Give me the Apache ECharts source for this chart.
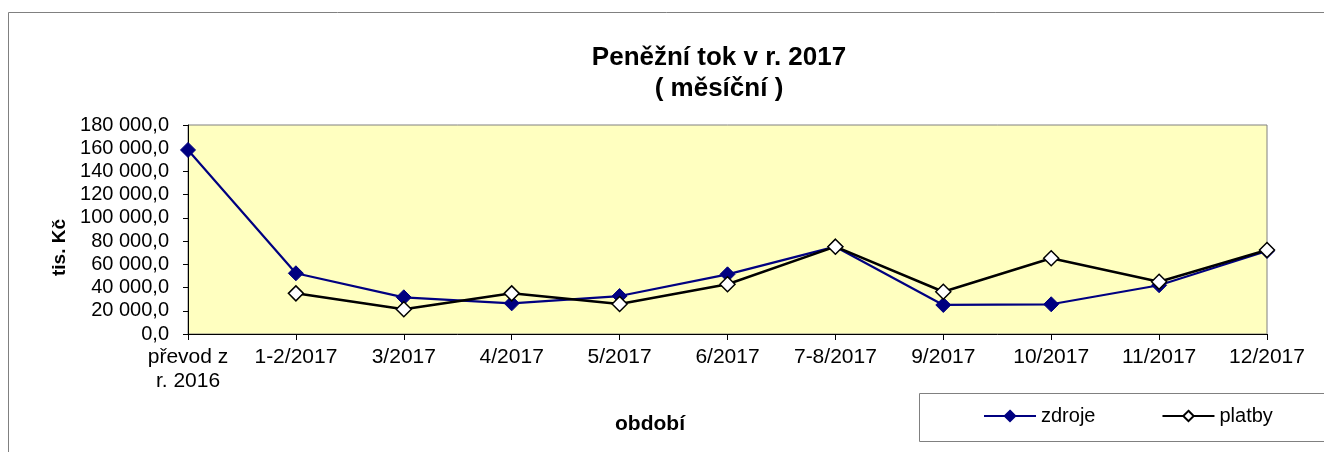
<!DOCTYPE html>
<html>
<head>
<meta charset="utf-8">
<script src="https://cdn.jsdelivr.net/npm/echarts@6/dist/echarts.min.js"></script>
<style>
html, body { margin: 0; padding: 0; background: #fff; }
#chart { width: 1324px; height: 452px; }
</style>
</head>
<body>
<div id="chart"></div>
<script>
// kategorie (obdobi)
var categories = ['převod z\nr. 2016', '1-2/2017', '3/2017', '4/2017', '5/2017', '6/2017',
	'7-8/2017', '9/2017', '10/2017', '11/2017', '12/2017'];
// tis. Kc
var zdroje = [158500, 52300, 31600, 26400, 32700, 51400, 75200, 25000, 25600, 42000, 71500];
var platby = [null, 35000, 21300, 35000, 25800, 42800, 75200, 36400, 65200, 45000, 72300];

var FONT = 'Liberation Sans, Arial, sans-serif';

function fmtNum(v) {
	return Math.round(v).toString().replace(/\B(?=(\d{3})+(?!\d))/g, ' ') + ',0';
}

var chart = echarts.init(document.getElementById('chart'));

chart.setOption({
	animation: false,
	backgroundColor: '#ffffff',
	title: {
		text: 'Peněžní tok v r. 2017\n( měsíční )',
		left: 714,
		top: 37,
		textAlign: 'center',
		textStyle: {
			fontFamily: FONT,
			fontSize: 26,
			fontWeight: 'bold',
			lineHeight: 31,
			color: '#000'
		}
	},
	graphic: [{
		// ramecek grafu
		type: 'rect',
		shape: { x: 8.5, y: 12.5, width: 1400, height: 500 },
		style: { fill: 'none', stroke: '#808080', lineWidth: 1 },
		silent: true
	}, {
		// ramecek legendy
		type: 'rect',
		shape: { x: 919.5, y: 393.5, width: 500, height: 48 },
		style: { fill: '#fff', stroke: '#808080', lineWidth: 1 },
		silent: true,
		z: 0
	}, {
		type: 'text',
		left: 615,
		top: 414,
		style: {
			text: 'období',
			font: 'bold 21px ' + FONT,
			fill: '#000'
		}
	}],
	legend: {
		left: 983,
		top: 406,
		padding: 0,
		itemWidth: 52,
		itemHeight: 13,
		itemGap: 66,
		textStyle: { fontFamily: FONT, fontSize: 20, color: '#000' },
		data: ['zdroje', 'platby'],
		z: 5
	},
	grid: {
		left: 188,
		right: 57,
		top: 125,
		bottom: 118,
		show: true,
		backgroundColor: '#FFFFC0',
		borderColor: '#808080',
		borderWidth: 1
	},
	xAxis: {
		type: 'category',
		data: categories,
		boundaryGap: false,
		axisLine: { lineStyle: { color: '#000', width: 1 } },
		axisTick: { show: true, inside: false, length: 6, lineStyle: { color: '#000' } },
		axisLabel: {
			fontFamily: FONT,
			fontSize: 21,
			color: '#000',
			margin: 11,
			lineHeight: 24,
			interval: 0
		},
		splitLine: { show: false }
	},
	yAxis: {
		type: 'value',
		min: 0,
		max: 180000,
		interval: 20000,
		name: 'tis. Kč',
		nameLocation: 'middle',
		nameRotate: 90,
		nameGap: 116,
		nameTextStyle: {
			fontFamily: FONT,
			fontSize: 19,
			fontWeight: 'bold',
			color: '#000',
			padding: [0, 36, 0, 0]
		},
		axisLine: { show: true, lineStyle: { color: '#000', width: 1 } },
		axisTick: { show: true, inside: false, length: 5, lineStyle: { color: '#000' } },
		axisLabel: {
			fontFamily: FONT,
			fontSize: 20,
			color: '#000',
			margin: 19,
			formatter: fmtNum
		},
		splitLine: { show: false }
	},
	series: [{
		name: 'zdroje',
		type: 'line',
		data: zdroje,
		symbol: 'diamond',
		symbolSize: 15,
		lineStyle: { color: '#000080', width: 2.2 },
		itemStyle: { color: '#000080', borderColor: '#000080', borderWidth: 1 },
		z: 2
	}, {
		name: 'platby',
		type: 'line',
		data: platby,
		symbol: 'diamond',
		symbolSize: 15,
		lineStyle: { color: '#000000', width: 2.5 },
		itemStyle: { color: '#ffffff', borderColor: '#000000', borderWidth: 1.5 },
		z: 3
	}]
});
</script>
</body>
</html>
